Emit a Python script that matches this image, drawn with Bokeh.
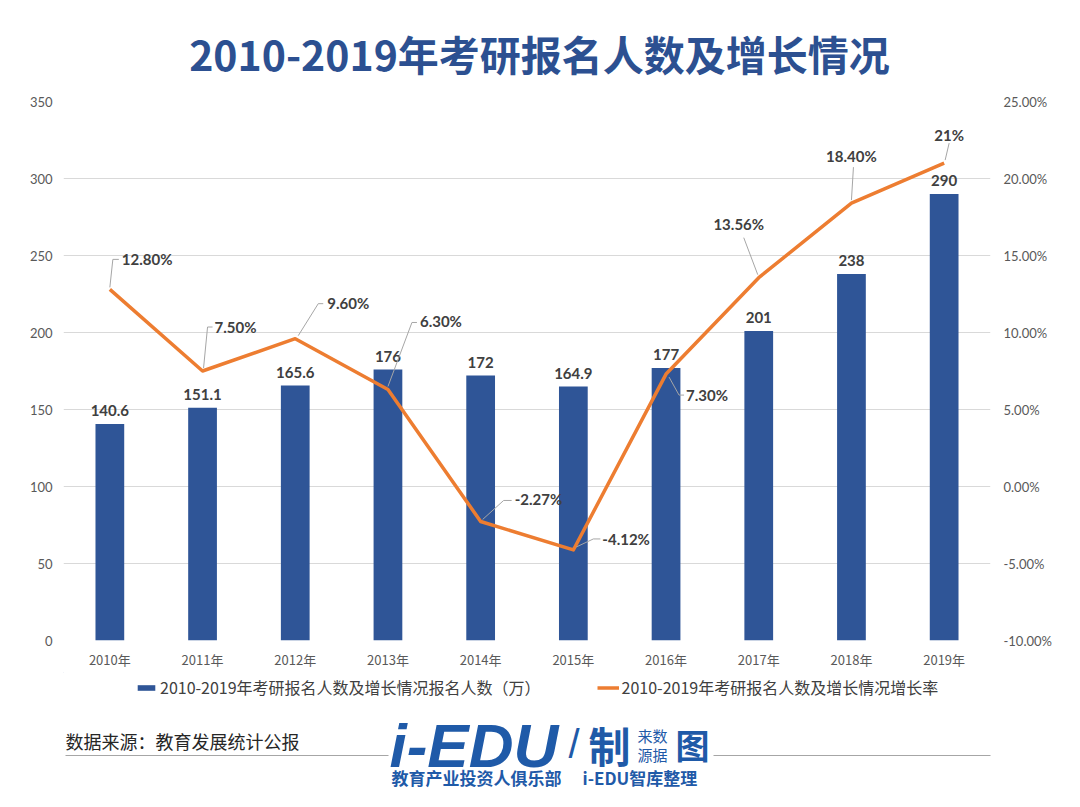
from bokeh.plotting import figure
from bokeh.layouts import column
from bokeh.models import (FactorRange, Range1d, LinearAxis, FixedTicker, PrintfTickFormatter,
                          ColumnDataSource, Legend, LegendItem)
from bokeh.embed import file_html
from bokeh.resources import INLINE
from bokeh.core.properties import value

# ---------------- data ----------------
years = ["2010年", "2011年", "2012年", "2013年", "2014年",
         "2015年", "2016年", "2017年", "2018年", "2019年"]
applicants = [140.6, 151.1, 165.6, 176, 172, 164.9, 177, 201, 238, 290]
applicant_labels = ["140.6", "151.1", "165.6", "176", "172", "164.9", "177", "201", "238", "290"]
growth = [12.80, 7.50, 9.60, 6.30, -2.27, -4.12, 7.30, 13.56, 18.40, 21.0]
growth_labels = ["12.80%", "7.50%", "9.60%", "6.30%", "-2.27%", "-4.12%", "7.30%", "13.56%", "18.40%", "21%"]
left_ticks = [0, 50, 100, 150, 200, 250, 300, 350]
right_ticks = [-10, -5, 0, 5, 10, 15, 20, 25]

title_text = "2010-2019年考研报名人数及增长情况"
legend_bar = "2010-2019年考研报名人数及增长情况报名人数（万）"
legend_line = "2010-2019年考研报名人数及增长情况增长率"
source_text = "数据来源：教育发展统计公报"

# ---------------- style / layout ----------------
W = 1072
HEAD_H = 88                 # page y 0..88
MAIN_TOP, MAIN_BOT = 88, 672
FOOT_BOT = 800
FW, FH = 927, 539           # frame size in px
FL, FT = 63, 101            # frame left/top on page
BLUE = "#2F5597"
ORANGE = "#ED7D31"
CJK = "Noto Sans CJK SC"
NUM = "Lato"
LOGO = "#1F5AA8"

# leader-line / label offsets in screen px relative to each point (y down)
lead_start = [(0, -2), (1, -3), (3, -3), (0, -3), (2, -2), (3, -3), (3, 3), (-1, -3), (0, -3), (1, -3)]
lead_elbow = [(3, -30), (5, -44), (23, -35), (24, -67), (23, -21), (20, -11), (13, 21), (-15, -40), (2, -36), (5, -20)]
lead_end = [(9, -30), (10, -44), (28, -35), (29, -67), (31, -21), (27, -11), (18, 21), (-15, -40), (2, -36), (5, -20)]
lab_off = [(12, -30), (12, -44), (32, -36), (32, -68), (34, -22), (29, -11), (20, 21), (-20, -54), (0, -47), (5, -28)]
lab_align = ["left"] * 7 + ["center"] * 3


def blank_fig(y0, y1):
    # frame spans page x FL..FL+FW (aligned with the chart), ranges are page pixels
    f = figure(width=W, height=y1 - y0, x_range=Range1d(FL, FL + FW), y_range=Range1d(y1, y0),
               frame_width=FW, frame_height=y1 - y0,
               min_border_left=FL, min_border_right=W - FL - FW, min_border_top=0, min_border_bottom=0,
               x_axis_type=None, y_axis_type=None, output_backend="svg", toolbar_location=None)
    f.grid.visible = False
    f.outline_line_color = None
    return f

# ---------------- header ----------------
head = blank_fig(0, HEAD_H)
head.text(x=[539], y=[52], text=[title_text], text_align="center", text_baseline="middle",
          text_font=value(CJK), text_font_style="bold", text_font_size="41px", text_color="#2C5091")

# ---------------- main chart ----------------
p = figure(x_range=FactorRange(*years), y_range=Range1d(0, 350),
           frame_width=FW, frame_height=FH,
           min_border_left=FL, min_border_right=W - FL - FW,
           min_border_top=FT - MAIN_TOP, min_border_bottom=MAIN_BOT - (FT + FH),
           output_backend="svg", toolbar_location=None)
p.outline_line_color = None
p.extra_y_ranges = {"rate": Range1d(-10, 25)}

p.xgrid.grid_line_color = None
p.ygrid.ticker = FixedTicker(ticks=left_ticks)
p.ygrid.grid_line_color = "#D9D9D9"
p.ygrid.grid_line_width = 1


def style_axis(ax, standoff, font):
    ax.axis_line_color = None
    ax.major_tick_line_color = None
    ax.minor_tick_line_color = None
    ax.major_tick_out = 0
    ax.major_tick_in = 0
    ax.minor_tick_out = 0
    ax.major_label_text_color = "#595959"
    ax.major_label_text_font_size = "13px"
    ax.major_label_text_font = font
    ax.major_label_standoff = standoff


p.yaxis.ticker = FixedTicker(ticks=left_ticks)
style_axis(p.yaxis[0], 11, NUM)

rax = LinearAxis(y_range_name="rate", ticker=FixedTicker(ticks=right_ticks),
                 formatter=PrintfTickFormatter(format="%.2f%%"))
style_axis(rax, 13, NUM)
p.add_layout(rax, "right")

style_axis(p.xaxis[0], 9, CJK)

# bars
src = ColumnDataSource(dict(x=years, y=applicants, lab=applicant_labels))
bars = p.vbar(x="x", top="y", width=0.31, source=src, fill_color=BLUE, line_color=None)
p.text(x="x", y="y", text="lab", source=src, text_align="center", text_baseline="middle",
       y_offset=-13, text_font=value(NUM), text_font_style="bold", text_font_size="15px",
       text_color="#404040")

# growth line
px_x = FW / len(years)
px_y = FH / 35.0
lsrc = ColumnDataSource(dict(x=years, y=growth))
line = p.line(x="x", y="y", source=lsrc, y_range_name="rate", line_color=ORANGE, line_width=3.5,
              line_join="round")

# leader lines (pixel offsets converted into the scales' units)
xs, ys = [], []
for i, g in enumerate(growth):
    cx = i + 0.5
    pts = [lead_start[i], lead_elbow[i], lead_end[i]]
    xs.append([cx + dx / px_x for dx, dy in pts])
    ys.append([g - dy / px_y for dx, dy in pts])
p.multi_line(xs=xs, ys=ys, y_range_name="rate", line_color="#A6A6A6", line_width=1)

tsrc = ColumnDataSource(dict(x=years, y=growth, lab=growth_labels,
                             dx=[o[0] for o in lab_off], dy=[o[1] for o in lab_off],
                             al=lab_align))
p.text(x="x", y="y", text="lab", source=tsrc, y_range_name="rate",
       x_offset="dx", y_offset="dy", text_align="al", text_baseline="middle",
       text_font=value(NUM), text_font_style="bold", text_font_size="15px", text_color="#404040")

# ---------------- footer (legend, source, logo) ----------------
foot = blank_fig(MAIN_BOT, FOOT_BOT)
# legend swatches use the same styles as the two series (kept outside the visible range)
leg_bar = foot.vbar(x=[-100], top=[0], bottom=[-1], width=1, fill_color=BLUE, line_color=None)
leg_line = foot.line(x=[-100, -99], y=[0, 0], line_color=ORANGE, line_width=3.5)
legend = Legend(items=[LegendItem(label=legend_bar, renderers=[leg_bar]),
                       LegendItem(label=legend_line, renderers=[leg_line])],
                location=(135 - FL, FOOT_BOT - 699), orientation="horizontal",
                glyph_width=22, glyph_height=7, label_standoff=3, spacing=56,
                padding=0, margin=0, border_line_color=None, background_fill_alpha=0,
                label_text_font=CJK, label_text_font_size="16px", label_text_color="#404040")
foot.add_layout(legend)

foot.text(x=[65], y=[740], text=[source_text], text_align="left", text_baseline="middle",
          text_font=value(CJK), text_font_size="18px", text_color="#262626")
foot.segment(x0=[65, 713], y0=[755, 755], x1=[388, 1015], y1=[755, 755],
             line_color="#A6A6A6", line_width=1)
foot.text(x=[389], y=[745], text=["i-EDU"], text_align="left", text_baseline="middle",
          text_font=value("Liberation Sans"), text_font_style="bold italic",
          text_font_size="62px", text_color=LOGO)
foot.text(x=[568], y=[743], text=["/"], text_align="left", text_baseline="middle",
          text_font=value("Liberation Sans"), text_font_size="40px", text_color=LOGO)
foot.text(x=[588], y=[744], text=["制"], text_align="left", text_baseline="middle",
          text_font=value(CJK), text_font_style="bold", text_font_size="42px", text_color=LOGO)
foot.text(x=[637, 637], y=[735, 754], text=["来数", "源据"], text_align="left",
          text_baseline="middle", text_font=value(CJK), text_font_size="15px", text_color=LOGO)
foot.text(x=[675], y=[744], text=["图"], text_align="left", text_baseline="middle",
          text_font=value(CJK), text_font_style="bold", text_font_size="34px", text_color=LOGO)
foot.text(x=[391, 582], y=[777, 777], text=["教育产业投资人俱乐部", "i-EDU智库整理"],
          text_align="left", text_baseline="middle", text_font=value(CJK),
          text_font_style="bold", text_font_size="17px", text_color=LOGO)

layout = column(head, p, foot, spacing=0)
open("out.html", "w").write(file_html(layout, INLINE))
